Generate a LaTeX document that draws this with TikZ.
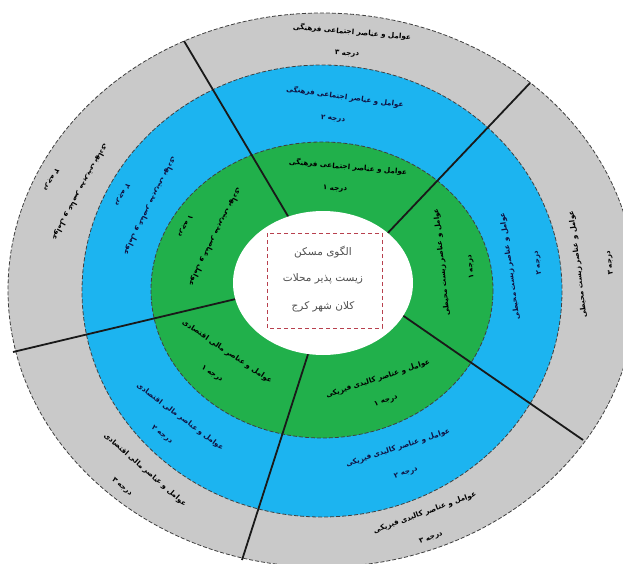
\documentclass[tikz,border=0pt]{standalone}
\usepackage{fontspec}
\TeXXeTstate=1
\newfontfamily\fa[Script=Arabic]{DejaVu Sans}
\definecolor{ringgray}{HTML}{C9C9C9}
\definecolor{ringblue}{HTML}{1CB4F0}
\definecolor{ringgreen}{HTML}{21B04B}
\definecolor{boxred}{HTML}{B8404E}
\definecolor{centertext}{HTML}{505050}
\definecolor{bluetext}{HTML}{101040}
\tikzset{
  ringline/.style={draw=black!75, line width=0.8pt, dash pattern=on 4pt off 2pt},
  divider/.style={draw=black!90, line width=1.8pt},
  lbl/.style={font=\fa\bfseries\fontsize{7.2}{8}\selectfont, inner sep=0pt},
  lblb/.style={lbl, text=bluetext},
  ctr/.style={font=\fa\fontsize{10.5}{12}\selectfont, text=centertext, inner sep=0pt},
}
\begin{document}
\begin{tikzpicture}[x=1pt,y=-1pt]
\useasboundingbox (0,0) rectangle (623,564);
% rings
\fill[ringgray] (322,290) ellipse [x radius=314, y radius=277];
\fill[ringblue] (322,291) ellipse [x radius=240, y radius=226];
\fill[ringgreen] (322,290) ellipse [x radius=171, y radius=148];
\draw[ringline] (322,290) ellipse [x radius=314, y radius=277];
\draw[ringline] (322,291) ellipse [x radius=240, y radius=226];
\draw[ringline] (322,290) ellipse [x radius=171, y radius=148];
% dividers
\coordinate (i1) at (314,260); \coordinate (o1) at (184,41);
\coordinate (i2) at (366,256); \coordinate (o2) at (530,83);
\coordinate (i3) at (366,290); \coordinate (o3) at (583,440);
\coordinate (i4) at (319,320); \coordinate (o4) at (242,560);
\coordinate (i5) at (282,288); \coordinate (o5) at (13,352);
\draw[divider] (i1) -- (o1);
\draw[divider] (i2) -- (o2);
\draw[divider] (i3) -- (o3);
\draw[divider] (i4) -- (o4);
\draw[divider] (i5) -- (o5);
% centre
\fill[white] (323,283) ellipse [x radius=90, y radius=72];
\draw[boxred, line width=1pt, dash pattern=on 4pt off 3pt] (267,233) rectangle (382,328);
\node[ctr] (c1) at (323,252) {\beginR الگوی مسکن\endR};
\node[ctr] (c2) at (323,279) {\beginR زیست پذیر محلات\endR};
\node[ctr] (c3) at (323,307) {\beginR کلان شهر کرج\endR};
% top sector (social-cultural)
\node[lbl, rotate=-5] (t3) at (352,32) {\beginR عوامل و عناصر اجتماعی فرهنگی\endR};
\node[lbl, rotate=-3] (t3d) at (347,54) {\beginR درجه ۳\endR};
\node[lblb, rotate=-8] (t2) at (345,97) {\beginR عوامل و عناصر اجتماعی فرهنگی\endR};
\node[lblb, rotate=-5] (t2d) at (333,119) {\beginR درجه ۲\endR};
\node[lbl, rotate=-5] (t1) at (348,167) {\beginR عوامل و عناصر اجتماعی فرهنگی\endR};
\node[lbl, rotate=-3] (t1d) at (335,189) {\beginR درجه ۱\endR};
% right sector (environmental)
\node[lbl, rotate=96] (r1) at (442,262) {\beginR عوامل و عناصر زیست محیطی\endR};
\node[lbl, rotate=96] (r1d) at (471,267) {\beginR درجه ۱\endR};
\node[lblb, rotate=98] (r2) at (510,266) {\beginR عوامل و عناصر زیست محیطی\endR};
\node[lblb, rotate=98] (r2d) at (538,263) {\beginR درجه ۲\endR};
\node[lbl, rotate=97] (r3) at (578,264) {\beginR عوامل و عناصر زیست محیطی\endR};
\node[lbl, rotate=97] (r3d) at (610,263) {\beginR درجه ۳\endR};
% bottom-right sector (physical)
\node[lbl, rotate=18] (b1) at (378,379) {\beginR عوامل و عناصر کالبدی فیزیکی\endR};
\node[lbl, rotate=18] (b1d) at (386,401) {\beginR درجه ۱\endR};
\node[lblb, rotate=18] (b2) at (398,448) {\beginR عوامل و عناصر کالبدی فیزیکی\endR};
\node[lblb, rotate=18] (b2d) at (406,473) {\beginR درجه ۲\endR};
\node[lbl, rotate=20] (b3) at (425,513) {\beginR عوامل و عناصر کالبدی فیزیکی\endR};
\node[lbl, rotate=20] (b3d) at (431,538) {\beginR درجه ۳\endR};
% bottom-left sector (economic)
\node[lbl, rotate=-34] (e1) at (227,352) {\beginR عوامل و عناصر مالی اقتصادی\endR};
\node[lbl, rotate=-34] (e1d) at (212,374) {\beginR درجه ۱\endR};
\node[lblb, rotate=-37] (e2) at (180,417) {\beginR عوامل و عناصر مالی اقتصادی\endR};
\node[lblb, rotate=-37] (e2d) at (162,435) {\beginR درجه ۲\endR};
\node[lbl, rotate=-41] (e3) at (145,470) {\beginR عوامل و عناصر مالی اقتصادی\endR};
\node[lbl, rotate=-41] (e3d) at (122,487) {\beginR درجه ۳\endR};
% left sector (management)
\node[lbl, rotate=243] (m1) at (215,237) {\beginR عوامل و عناصر مدیریتی نهادی\endR};
\node[lbl, rotate=243] (m1d) at (185,226) {\beginR درجه ۱\endR};
\node[lblb, rotate=243] (m2) at (150,206) {\beginR عوامل و عناصر مدیریتی نهادی\endR};
\node[lblb, rotate=243] (m2d) at (122,195) {\beginR درجه ۲\endR};
\node[lbl, rotate=241] (m3) at (80,192) {\beginR عوامل و عناصر مدیریتی نهادی\endR};
\node[lbl, rotate=241] (m3d) at (51,180) {\beginR درجه ۳\endR};
\end{tikzpicture}
\end{document}
